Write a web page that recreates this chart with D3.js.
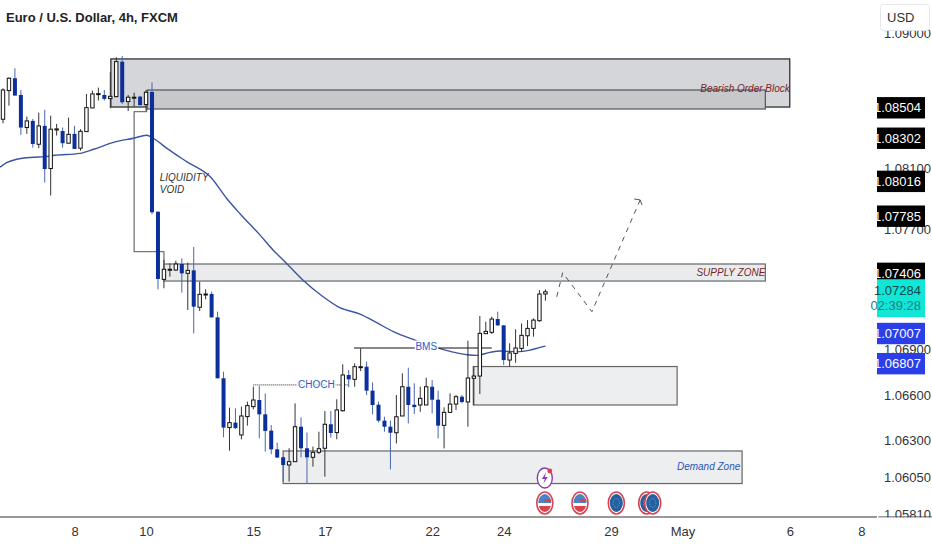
<!DOCTYPE html>
<html>
<head>
<meta charset="utf-8">
<script src="https://cdn.jsdelivr.net/npm/d3@7"></script>
<style>
  html, body { margin: 0; padding: 0; background: #fff; }
  svg { display: block; }
  text { font-family: "Liberation Sans Narrow", "Liberation Sans", sans-serif; }
</style>
</head>
<body>
<svg id="chart" width="932" height="550"></svg>
<script>
// candles, 4h bars
const opens = [
  1.08428,1.08618,1.08700,1.08589,1.08373,1.08417,1.08262,1.08384,1.08101,1.08357,
  1.08350,1.08269,1.08331,1.08236,1.08346,1.08503,1.08594,1.08589,1.08565,1.08578,
  1.08810,1.08545,1.08569,1.08578,1.08525,1.08609,1.07815,1.07366,1.07428,1.07428,
  1.07468,1.07406,1.07426,1.07181,1.07265,1.07269,1.07114,1.06710,1.06383,1.06416,
  1.06334,1.06456,1.06522,1.06566,1.06471,1.06363,1.06239,1.06186,1.06135,1.06157,
  1.06389,1.06246,1.06186,1.06219,1.06246,1.06405,1.06350,1.06495,1.06732,1.06703,
  1.06782,1.06787,1.06628,1.06535,1.06429,1.06389,1.06349,1.06460,1.06654,1.06535,
  1.06533,1.06533,1.06654,1.06568,1.06398,1.06484,1.06539,1.06588,1.06553,1.06710,
  1.06725,1.07006,1.07015,1.07103,1.07061,1.06831,1.06875,1.06908,1.06992,1.07041,
  1.07092,1.07269];
const highs = [
  1.08633,1.08706,1.08766,1.08622,1.08446,1.08430,1.08472,1.08490,1.08452,1.08397,
  1.08373,1.08439,1.08384,1.08362,1.08596,1.08618,1.08638,1.08622,1.08740,1.08839,
  1.08848,1.08589,1.08605,1.08583,1.08622,1.08673,1.07815,1.07495,1.07473,1.07490,
  1.07506,1.07477,1.07581,1.07351,1.07300,1.07285,1.07152,1.06754,1.06515,1.06511,
  1.06522,1.06555,1.06655,1.06659,1.06610,1.06400,1.06283,1.06190,1.06246,1.06544,
  1.06451,1.06350,1.06257,1.06356,1.06493,1.06493,1.06571,1.06803,1.06765,1.06809,
  1.06908,1.06820,1.06683,1.06555,1.06455,1.06429,1.06599,1.06743,1.06780,1.06676,
  1.06654,1.06714,1.06698,1.06628,1.06517,1.06610,1.06599,1.06599,1.06959,1.06787,
  1.07123,1.07085,1.07118,1.07152,1.07063,1.06942,1.07035,1.07074,1.07096,1.07107,
  1.07295,1.07300];
const lows = [
  1.08401,1.08518,1.08585,1.08324,1.08331,1.08240,1.08236,1.08008,1.07922,1.08320,
  1.08240,1.08269,1.08231,1.08220,1.08346,1.08503,1.08552,1.08552,1.08501,1.08574,
  1.08530,1.08483,1.08512,1.08521,1.08483,1.07798,1.07300,1.07307,1.07384,1.07422,
  1.07278,1.07163,1.07008,1.07156,1.07234,1.07114,1.06710,1.06319,1.06230,1.06374,
  1.06305,1.06396,1.06504,1.06312,1.06224,1.06206,1.06184,1.06025,1.06025,1.06157,
  1.06186,1.06014,1.06124,1.06208,1.06058,1.06316,1.06305,1.06489,1.06650,1.06654,
  1.06758,1.06599,1.06471,1.06418,1.06356,1.06106,1.06278,1.06460,1.06411,1.06473,
  1.06488,1.06533,1.06477,1.06312,1.06245,1.06484,1.06500,1.06544,1.06389,1.06533,
  1.06606,1.07006,1.07004,1.07057,1.06798,1.06787,1.06813,1.06886,1.06924,1.06986,
  1.07085,1.07225];
const closes = [
  1.08622,1.08700,1.08585,1.08373,1.08417,1.08264,1.08384,1.08098,1.08362,1.08364,
  1.08269,1.08328,1.08231,1.08348,1.08505,1.08596,1.08598,1.08563,1.08580,1.08810,
  1.08541,1.08574,1.08574,1.08521,1.08607,1.07811,1.07369,1.07433,1.07433,1.07468,
  1.07406,1.07426,1.07185,1.07267,1.07269,1.07114,1.06710,1.06383,1.06416,1.06380,
  1.06460,1.06529,1.06566,1.06471,1.06361,1.06239,1.06184,1.06135,1.06157,1.06389,
  1.06246,1.06186,1.06219,1.06243,1.06405,1.06347,1.06500,1.06732,1.06703,1.06787,
  1.06787,1.06628,1.06533,1.06429,1.06389,1.06349,1.06455,1.06654,1.06533,1.06519,
  1.06577,1.06654,1.06568,1.06396,1.06484,1.06539,1.06588,1.06553,1.06712,1.06725,
  1.07008,1.07021,1.07103,1.07061,1.06831,1.06878,1.06911,1.06995,1.07041,1.07096,
  1.07269,1.07284];

// moving average, read at a few bars
const maBars = [-0.5,0.6,2.3,5.1,7,8.7,12.9,15.2,18.8,21.9,24.1,25.2,27.5,30.8,35,37.5,39.8,43.1,45.3,47,50.3,53.7,56.5,59.9,62.7,65.5,68.8,72.2,75.5,77.9,79.5,81.7,83.4,86.2,88.4,90.1,91];
const maValues = [1.08110,1.08140,1.08163,1.08176,1.08180,1.08189,1.08202,1.08229,1.08278,1.08302,1.08322,1.08302,1.08235,1.08147,1.08037,1.07904,1.07800,1.07661,1.07561,1.07495,1.07362,1.07251,1.07178,1.07136,1.07079,1.07019,1.06968,1.06920,1.06884,1.06866,1.06862,1.06882,1.06891,1.06886,1.06897,1.06915,1.06924];

// zones
const zoneStart = [18.1, 24.2, 27, 78.9, 47];
const zoneEnd = [132, 127.9, 127.9, 113.1, 124];
const zoneTop = [1.08828, 1.08622, 1.07468, 1.06788, 1.06228];
const zoneBottom = [1.08509, 1.08496, 1.07355, 1.06533, 1.06012];
const zoneFill = ["#d4d6d9", "#c6c8cb", "#e9ebed", "#eceef0", "#eceef0"];
const zoneStroke = ["#222", "#555", "#666", "#666", "#666"];

// drawn lines
const voidBars = [24.1, 24.1, 22, 22, 27, 27];
const voidPrices = [1.08518, 1.08478, 1.08478, 1.07550, 1.07550, 1.07475];
const pathBars = [92.9, 93.9, 98.8, 106.9];
const pathPrices = [1.07251, 1.07410, 1.07152, 1.07893];
const arrowBars = [105.9, 106.9, 107.2];
const arrowPrices = [1.07899, 1.07893, 1.07859];

// axis
const priceTicks = [1.09, 1.081, 1.077, 1.069, 1.066, 1.063, 1.0605, 1.0581];
const timeTicks = [12, 24, 42, 54, 72, 84, 102, 114, 132, 144];
const timeLabels = ["8", "10", "15", "17", "22", "24", "29", "May", "6", "8"];
const blackFlags = [1.08504, 1.08302, 1.08016, 1.07785, 1.07406];
const blueFlags = [1.07007, 1.06807];
const lastPrice = 1.07284;
const countdown = "02:39:28";

// event icons
const eventBars = [90.9, 96.8, 102.9, 109, 108];
const eventKinds = ["us", "us", "eu", "eu", "eu"];

const svg = d3.select("#chart");
const x = d3.scaleLinear().domain([0, 91]).range([3, 545.4]);
const y = d3.scaleLinear().domain([1.09, 1.0581]).range([33, 514]);
const line = d3.line().x(d => x(d[0])).y(d => y(d[1]));
const bars = d3.range(opens.length);

// Zones
svg.append("g").selectAll("rect").data(zoneStart).enter().append("rect")
  .attr("x", (d, i) => x(d))
  .attr("y", (d, i) => y(zoneTop[i]))
  .attr("width", (d, i) => x(zoneEnd[i]) - x(d))
  .attr("height", (d, i) => y(zoneBottom[i]) - y(zoneTop[i]))
  .attr("fill", (d, i) => zoneFill[i])
  .attr("stroke", (d, i) => zoneStroke[i])
  .attr("stroke-width", 1.2);

// Liquidity void outline
svg.append("path")
  .attr("d", line(d3.zip(voidBars, voidPrices)))
  .attr("fill", "none").attr("stroke", "#777").attr("stroke-width", 1.3);

// Moving average
svg.append("path")
  .attr("d", line.curve(d3.curveMonotoneX)(d3.zip(maBars, maValues)))
  .attr("fill", "none").attr("stroke", "#3b54a4").attr("stroke-width", 1.4);
line.curve(d3.curveLinear);

// CHOCH and BMS
svg.append("line")
  .attr("x1", x(42)).attr("x2", x(58))
  .attr("y1", y(1.06666)).attr("y2", y(1.06666))
  .attr("stroke", "#222").attr("stroke-dasharray", "1 1");
svg.append("line")
  .attr("x1", x(58.9)).attr("x2", x(82))
  .attr("y1", y(1.06911)).attr("y2", y(1.06911))
  .attr("stroke", "#111").attr("stroke-width", 1.2);

// Candles
const candle = svg.append("g").selectAll("g").data(bars).enter().append("g");
candle.append("line")
  .attr("x1", i => x(i)).attr("x2", i => x(i))
  .attr("y1", i => y(highs[i])).attr("y2", i => y(lows[i]))
  .attr("stroke", i => closes[i] >= opens[i] ? "#333" : "#4a66b4")
  .attr("stroke-width", 1);
candle.append("rect")
  .attr("x", i => x(i) - (closes[i] >= opens[i] ? 1.7 : 2))
  .attr("width", i => closes[i] >= opens[i] ? 3.4 : 4)
  .attr("y", i => y(Math.max(opens[i], closes[i])))
  .attr("height", i => Math.max(1, Math.abs(y(opens[i]) - y(closes[i]))))
  .attr("fill", i => closes[i] >= opens[i] ? "#fff" : "#0b2f9b")
  .attr("stroke", i => closes[i] >= opens[i] ? "#111" : "none")
  .attr("stroke-width", 1);

// Projected path
svg.append("path")
  .attr("d", line(d3.zip(pathBars, pathPrices)))
  .attr("fill", "none").attr("stroke", "#555").attr("stroke-width", 1).attr("stroke-dasharray", "5 5");
svg.append("path")
  .attr("d", line(d3.zip(arrowBars, arrowPrices)))
  .attr("fill", "none").attr("stroke", "#555").attr("stroke-width", 1);

// Notes on the chart
function note(txt, bar, price, color, size, anchor, halo) {
  const t = svg.append("text")
    .attr("x", x(bar)).attr("y", y(price)).attr("dy", "0.35em")
    .attr("fill", color).attr("font-size", size).attr("text-anchor", anchor || "start")
    .text(txt);
  if (halo) t.attr("stroke", "#fff").attr("stroke-width", 3).attr("paint-order", "stroke");
  return t;
}
note("Bearish Order Block", 132, 1.08629, "#7a1f2b", 10, "end").attr("font-style", "italic");
note("SUPPLY ZONE", 127.9, 1.07411, "#7a1f2b", 10, "end").attr("font-style", "italic");
note("Demand Zone", 123.7, 1.06122, "#2a55b8", 10, "end").attr("font-style", "italic");
note("LIQUIDITY", 26.3, 1.08040, "#333", 10).attr("font-style", "italic");
note("VOID", 26.3, 1.07965, "#333", 10).attr("font-style", "italic");
note("CHOCH", 49.5, 1.06666, "#2a5bd0", 10, "start", true);
note("BMS", 69.2, 1.06918, "#2a5bd0", 10, "start", true);

// Event icons
const clipDefs = svg.append("defs");
clipDefs.append("clipPath").attr("id", "iconClip").append("ellipse").attr("rx", 6.5).attr("ry", 9);
const iconY = 503;
const icon = svg.append("g").selectAll("g").data(eventBars.map((b, i) => [b, eventKinds[i]]).reverse()).enter().append("g")
  .attr("transform", d => `translate(${x(d[0])},${iconY})`);
icon.append("ellipse").attr("rx", 8).attr("ry", 11)
  .attr("fill", "#fff").attr("stroke", "#d9434f").attr("stroke-width", 1.6);
const iconInner = icon.append("g").attr("clip-path", "url(#iconClip)");
iconInner.filter(d => d[1] === "eu").append("rect")
  .attr("x", -7).attr("y", -10).attr("width", 14).attr("height", 20).attr("fill", "#24609f");
iconInner.filter(d => d[1] === "eu").append("ellipse")
  .attr("rx", 3.2).attr("ry", 4.5).attr("fill", "none").attr("stroke", "#6f9cc6")
  .attr("stroke-width", 1).attr("stroke-dasharray", "1 1");
iconInner.filter(d => d[1] === "us").append("rect")
  .attr("x", -7).attr("y", -10).attr("width", 14).attr("height", 10).attr("fill", "#4b83c4");
iconInner.filter(d => d[1] === "us").append("rect")
  .attr("x", 0).attr("y", -4).attr("width", 7).attr("height", 3).attr("fill", "#d9434f");
iconInner.filter(d => d[1] === "us").append("rect")
  .attr("x", -7).attr("y", 3).attr("width", 14).attr("height", 7).attr("fill", "#d9434f");

// Flash icon above the first event
const flash = svg.append("g").attr("transform", `translate(${x(90.9)},478)`);
flash.append("ellipse").attr("rx", 7.5).attr("ry", 10)
  .attr("fill", "#fff").attr("stroke", "#8a3fb5").attr("stroke-width", 1.4);
flash.append("path").attr("d", "M1.5,-6 L-3,1 L0,1 L-1.5,6 L3,-1 L0,-1 Z").attr("fill", "#8a3fb5");
flash.append("circle").attr("cx", 5).attr("cy", -7).attr("r", 2.4).attr("fill", "#e23b4a");

// Right and bottom scale panels
svg.append("rect").attr("x", 0).attr("y", 517).attr("width", 932).attr("height", 33).attr("fill", "#fff");
svg.append("line").attr("x1", 0).attr("x2", 877).attr("y1", 517).attr("y2", 517).attr("stroke", "#333");
svg.append("line").attr("x1", 878.5).attr("x2", 932).attr("y1", 517).attr("y2", 517).attr("stroke", "#333");

const timeAxis = d3.axisBottom(x).tickValues(timeTicks).tickSize(0)
  .tickFormat((d, i) => timeLabels[i]);
const timeG = svg.append("g").attr("transform", "translate(0,524)").call(timeAxis);
timeG.select(".domain").remove();
timeG.selectAll("text").attr("font-size", 13).attr("fill", "#333")
  .attr("font-family", "'Liberation Sans Narrow', sans-serif");

const priceAxis = d3.axisRight(y).tickValues(priceTicks).tickSize(0)
  .tickFormat(d3.format(".5f"));
const priceG = svg.append("g").attr("transform", "translate(881,0)").call(priceAxis);
priceG.select(".domain").remove();
priceG.selectAll("text").attr("font-size", 13).attr("fill", "#333").attr("x", 3)
  .attr("font-family", "'Liberation Sans Narrow', sans-serif");
// the axis line runs through the lowest label
svg.append("rect").attr("x", 878.5).attr("y", 517.5).attr("width", 54).attr("height", 8).attr("fill", "#fff");

function flag(price, fill, color) {
  svg.append("rect").attr("x", 877).attr("y", y(price) - 10.7).attr("width", 48).attr("height", 21.4).attr("fill", fill);
  svg.append("text").attr("x", 921).attr("y", y(price)).attr("dy", "0.36em").attr("text-anchor", "end")
    .attr("font-size", 13).attr("fill", color).text(d3.format(".5f")(price));
}
blackFlags.forEach(p => flag(p, "#000", "#fff"));
blueFlags.forEach(p => flag(p, "#2b3fe8", "#fff"));

svg.append("rect").attr("x", 877).attr("y", y(lastPrice) - 12.5).attr("width", 48).attr("height", 38).attr("fill", "#12e6d6");
svg.append("text").attr("x", 921).attr("y", y(lastPrice) - 1.5).attr("dy", "0.36em").attr("text-anchor", "end")
  .attr("font-size", 13).attr("fill", "#0a4a4a").text(d3.format(".5f")(lastPrice));
svg.append("text").attr("x", 921).attr("y", y(lastPrice) + 14).attr("dy", "0.36em").attr("text-anchor", "end")
  .attr("font-size", 13).attr("fill", "#1f7f7f").text(countdown);

// Currency button and title
svg.append("rect").attr("x", 880.5).attr("y", 4.5).attr("width", 49).attr("height", 26).attr("rx", 3)
  .attr("fill", "#fff").attr("stroke", "#e6e7ea");
svg.append("text").attr("x", 887).attr("y", 17.5).attr("dy", "0.36em").attr("font-size", 13).attr("fill", "#333").text("USD");
svg.append("text").attr("x", 6).attr("y", 17.5).attr("dy", "0.36em").attr("font-size", 13).attr("font-weight", "bold")
  .attr("fill", "#222").text("Euro / U.S. Dollar, 4h, FXCM");
</script>
</body>
</html>
